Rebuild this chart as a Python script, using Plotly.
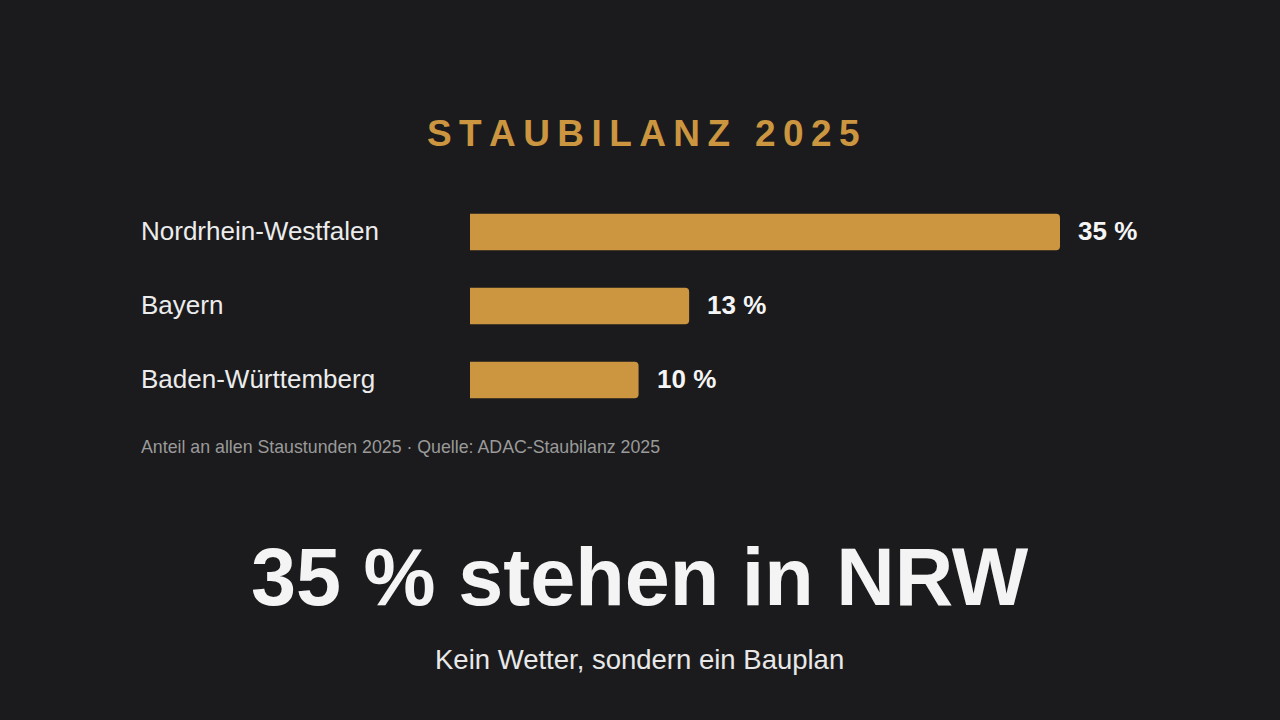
import plotly.graph_objects as go

states = ["Nordrhein-Westfalen", "Bayern", "Baden-Württemberg"]
shares = [35, 13, 10]
value_labels = ["35 %", "13 %", "10 %"]

title_text = "STAUBILANZ 2025"
note_text = "Anteil an allen Staustunden 2025 · Quelle: ADAC-Staubilanz 2025"
headline = "35 % stehen in NRW"
subline = "Kein Wetter, sondern ein Bauplan"

BG = "#1b1b1d"
GOLD = "#cc9540"
FONT = "Liberation Sans, Arial, sans-serif"

W, H = 1280, 720
L, R = 470, 1060
T, B = 195, 417

fig = go.Figure(go.Bar(
    x=shares, y=states, orientation="h",
    marker=dict(color=GOLD, cornerradius=4, line=dict(width=0)),
    width=0.49, hoverinfo="skip",
))

def px_x(pix):
    return (pix - L) / (R - L)

def py(pix):
    return (B - pix) / (B - T)

ann = []
for s, v, lab in zip(states, shares, value_labels):
    ann.append(dict(x=v, y=s, xref="x", yref="y", text=f"<b>{lab}</b>",
                    showarrow=False, xanchor="left", xshift=16, yshift=1,
                    font=dict(family=FONT, size=26, color="#f5f5f5")))
    ann.append(dict(x=px_x(139), y=s, xref="paper", yref="y", text=s,
                    showarrow=False, xanchor="left", yshift=1,
                    font=dict(family=FONT, size=26, color="#ececec")))

spaced_title = "\u2009\u00a0\u2009".join("\u2009".join(w) for w in title_text.split(" "))
ann.append(dict(x=px_x(643), xref="paper", y=py(133), yref="paper",
                xanchor="center", yanchor="middle", showarrow=False,
                text=f"<b>{spaced_title}</b>",
                font=dict(family=FONT, size=37, color=GOLD)))
ann.append(dict(x=px_x(139), xref="paper", y=py(447), yref="paper",
                xanchor="left", yanchor="middle", showarrow=False, text=note_text,
                font=dict(family=FONT, size=17.75, color="#9a9a9a")))
ann.append(dict(x=px_x(640), xref="paper", y=py(577), yref="paper",
                xanchor="center", yanchor="middle", showarrow=False,
                text=f"<b>{headline}</b>",
                font=dict(family=FONT, size=81, color="#f4f4f4")))
ann.append(dict(x=px_x(639), xref="paper", y=py(659), yref="paper",
                xanchor="center", yanchor="middle", showarrow=False, text=subline,
                font=dict(family=FONT, size=27.5, color="#e8e8e8")))

fig.update_layout(
    width=W, height=H,
    paper_bgcolor=BG, plot_bgcolor=BG,
    margin=dict(l=L, r=W - R, t=T, b=H - B, pad=0),
    xaxis=dict(range=[0, 35], visible=False, fixedrange=True),
    yaxis=dict(autorange="reversed", visible=False, fixedrange=True),
    showlegend=False,
    annotations=ann,
)

fig.write_html("out.html", config={"displayModeBar": False},
               post_script="document.body.style.margin='0';document.body.style.background='#1b1b1d';")
